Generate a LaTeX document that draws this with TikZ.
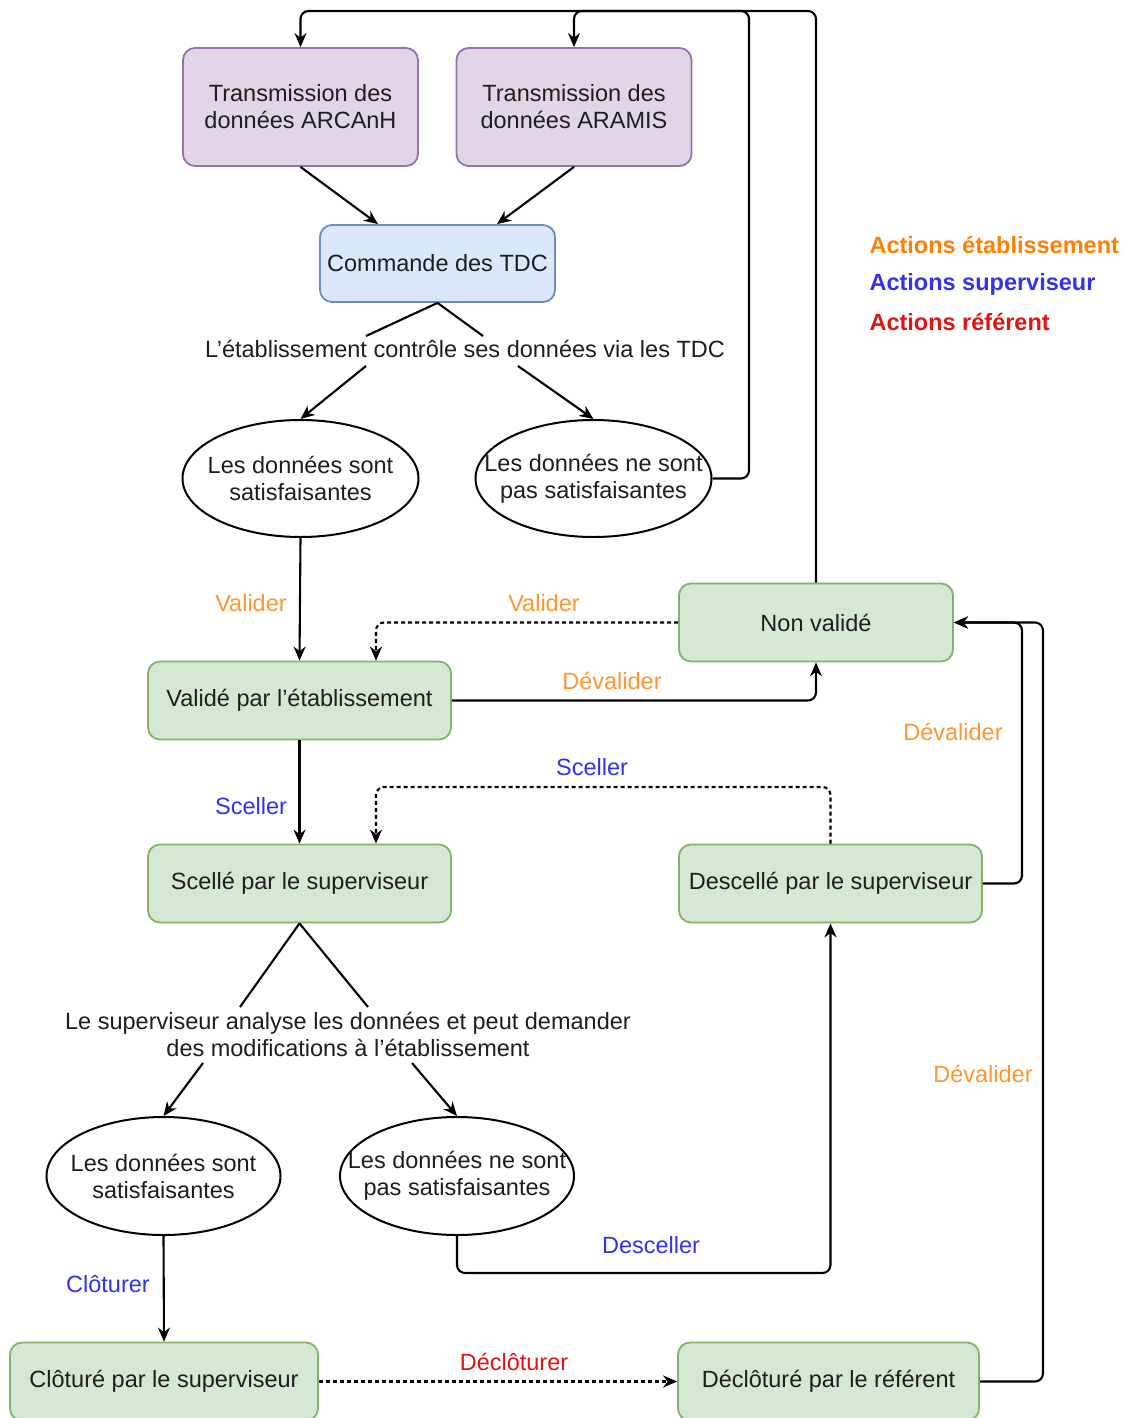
\documentclass[tikz,border=0pt]{standalone}
\usepackage{fontspec}
\setmainfont{Liberation Sans}
\usetikzlibrary{arrows.meta,shapes.geometric}
\definecolor{purpF}{HTML}{E1D5E7}
\definecolor{purpD}{HTML}{9673A6}
\definecolor{blueF}{HTML}{DAE8FC}
\definecolor{blueD}{HTML}{6C8EBF}
\definecolor{greenF}{HTML}{D5E8D4}
\definecolor{greenD}{HTML}{82B366}
\definecolor{orL}{RGB}{255,150,50}
\definecolor{orD}{RGB}{255,128,0}
\definecolor{blL}{RGB}{50,50,240}
\definecolor{rdL}{RGB}{225,20,20}
\definecolor{txt}{RGB}{30,30,30}
\newcommand\zb[1]{\makebox[0pt]{#1}}
\begin{document}
\begin{tikzpicture}[x=1pt,y=-1pt,
 font=\fontsize{23.5}{27}\selectfont,
 box/.style={rectangle, rounded corners=12pt, line width=1.8pt, align=center, text=txt},
 purp/.style={box, fill=purpF, draw=purpD, minimum width=235pt, minimum height=118pt},
 cmdbox/.style={box, fill=blueF, draw=blueD, minimum width=235pt, minimum height=77pt},
 gbox/.style={box, fill=greenF, draw=greenD, minimum height=78pt},
 ell/.style={ellipse, draw, line width=2pt, align=center, minimum width=236pt, minimum height=117pt, inner sep=0pt, text=txt},
 arr/.style={line width=2.1pt, -{Stealth[length=14pt,width=12pt]}, rounded corners=8pt},
 ln/.style={line width=2.1pt, rounded corners=8pt},
 dsh/.style={dash pattern=on 4pt off 3pt},
 lo/.style={text=orL},
 lb/.style={text=blL},
 lr/.style={text=rdL},
 note/.style={align=center, text=txt},
 leg/.style={anchor=west, font=\fontsize{23.5}{27}\selectfont\bfseries}
]
\useasboundingbox (0,0) rectangle (1125,1418);
\fill[white] (0,0) rectangle (1125,1418);

% nodes
\node[purp] (arc) at (300.5,107) {Transmission des\\données ARCAnH};
\node[purp] (ara) at (574,107) {Transmission des\\données ARAMIS};
\node[cmdbox] (cmd) at (437.5,263.5) {Commande des TDC};
\node[note] (t1) at (465,349) {L'établissement contrôle ses données via les TDC};
\node[ell] (e1) at (300.5,478.5) {\zb{Les données sont}\\\zb{satisfaisantes}};
\node[ell] (e2) at (593.5,478.5) {\zb{Les données ne sont}\\\zb{pas satisfaisantes}};
\node[gbox, minimum width=274pt] (nv) at (816,622.5) {Non validé};
\node[gbox, minimum width=303pt] (val) at (299.5,700.5) {Validé par l'établissement};
\node[gbox, minimum width=303pt] (sce) at (299.5,883.5) {Scellé par le superviseur};
\node[gbox, minimum width=303pt] (des) at (830.5,883.5) {Descellé par le superviseur};
\node[note] (t2) at (348,1034) {Le superviseur analyse les données et peut demander\\des modifications à l'établissement};
\node[ell, minimum width=234pt, minimum height=118pt] (e3) at (163.5,1176) {\zb{Les données sont}\\\zb{satisfaisantes}};
\node[ell, minimum width=234pt, minimum height=118pt] (e4) at (457,1176) {\zb{Les données ne sont}\\\zb{pas satisfaisantes}};
\node[gbox, minimum width=308pt] (clo) at (164,1381.5) {Clôturé par le superviseur};
\node[gbox, minimum width=301pt] (dec) at (828.5,1381.5) {Déclôturé par le référent};

% legend
\node[leg, text=orD] (lg1) at (866,245) {Actions établissement};
\node[leg, text=blL] (lg2) at (866,284) {Actions superviseur};
\node[leg, text=rdL] (lg3) at (866,322) {Actions référent};

% labels
\node[lo] (l1) at (251,603) {Valider};
\node[lo] (l2) at (544,603) {Valider};
\node[lo] (l3) at (612,681) {Dévalider};
\node[lb] (l4) at (251,806) {Sceller};
\node[lb] (l5) at (592,767) {Sceller};
\node[lo] (l6) at (953,732) {Dévalider};
\node[lo] (l7) at (983,1074) {Dévalider};
\node[lb] (l8) at (651,1245) {Desceller};
\node[lb] (l9) at (108,1284) {Clôturer};
\node[lr] (l10) at (514,1362) {Déclôturer};

% helper coordinates
\coordinate (a1) at (366,336);
\coordinate (a2) at (483,336);
\coordinate (b1) at (366,366);
\coordinate (b2) at (518,366);
\coordinate (c1) at (240,1007);
\coordinate (c2) at (368,1007);
\coordinate (d1) at (203,1063);
\coordinate (d2) at (412,1063);

% connectors
\draw[arr] (arc.south) -- (cmd.north -| 378,0);
\draw[arr] (ara.south) -- (cmd.north -| 497,0);
\draw[ln] (cmd.south) -- (a1);
\draw[ln] (cmd.south) -- (a2);
\draw[arr] (b1) -- (e1.north);
\draw[arr] (b2) -- (e2.north);
\draw[arr] (e2.east) -- (749,478.5) -- (749,11) -- (ara.north |- 0,11) -- (ara.north);
\draw[arr] (nv.north) -- (nv.north |- 0,11) -- (arc.north |- 0,11) -- (arc.north);
\draw[arr] (e1.south) -- (val.north);
\draw[arr,dsh] (nv.west) -| (val.north -| 376,0);
\draw[arr] (val.east) -| (nv.south);
\draw[arr] (val.south) -- (sce.north);
\draw[arr,dsh] (des.north) -- (des.north |- 0,787) -| (sce.north -| 376,0);
\draw[arr] (des.east) -- (des.east -| 1022,0) |- (nv.east);
\draw[arr] (dec.east) -- (dec.east -| 1043,0) |- (nv.east);
\draw[ln] (sce.south) -- (c1);
\draw[ln] (sce.south) -- (c2);
\draw[arr] (d1) -- (e3.north);
\draw[arr] (d2) -- (e4.north);
\draw[arr] (e4.south) |- (des.south |- 0,1273) -- (des.south);
\draw[arr] (e3.south) -- (clo.north);
\draw[arr,dsh] (clo.east) -- (dec.west);
\end{tikzpicture}
\end{document}
